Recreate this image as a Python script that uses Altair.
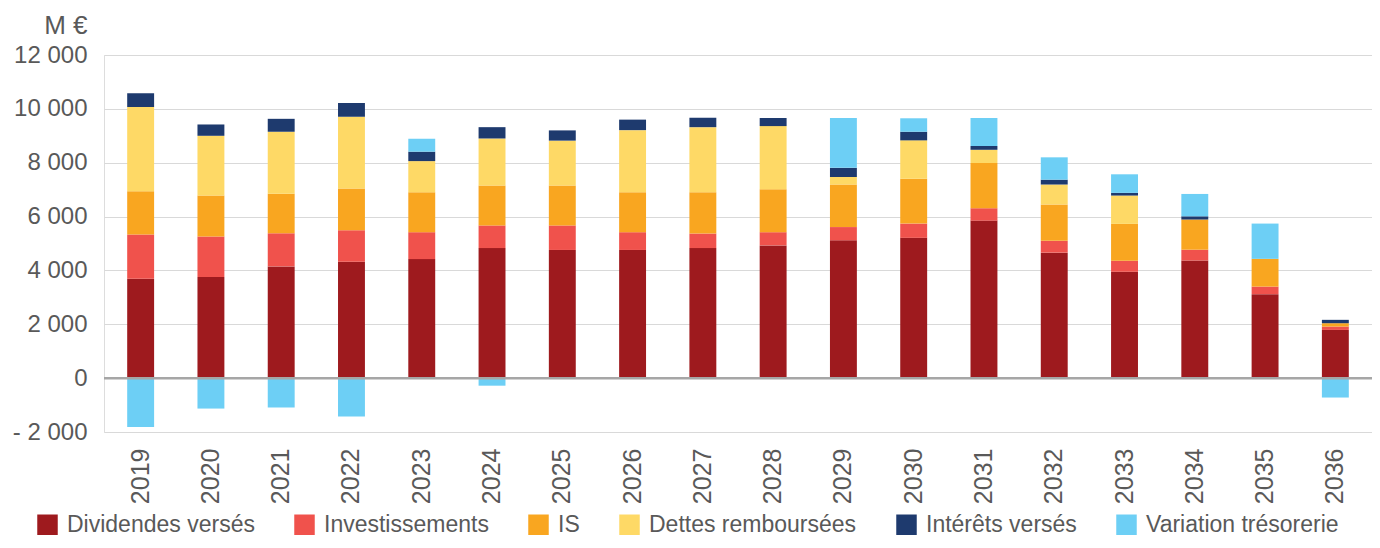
import altair as alt
import pandas as pd

years = [str(y) for y in range(2019, 2037)]
series = ["Dividendes versés", "Investissements", "IS", "Dettes remboursées",
          "Intérêts versés", "Variation trésorerie"]
colors = ["#9e1a1e", "#f0524c", "#f9a620", "#fed966", "#1e3a6e", "#6dcff5"]

dividendes = [3690, 3760, 4150, 4320, 4420, 4830, 4760, 4760, 4830, 4930, 5120, 5210, 5850, 4660, 3950, 4370, 3120, 1790]
investissements = [1640, 1500, 1230, 1170, 1000, 840, 910, 660, 540, 490, 490, 530, 460, 440, 410, 400, 280, 125]
impot = [1610, 1520, 1470, 1550, 1480, 1480, 1480, 1480, 1530, 1590, 1580, 1660, 1680, 1350, 1370, 1120, 1030, 125]
dettes = [3130, 2220, 2300, 2670, 1160, 1750, 1670, 2310, 2420, 2350, 280, 1430, 490, 740, 1050, 0, 0, 0]
interets = [510, 420, 480, 510, 350, 420, 380, 390, 350, 300, 340, 320, 140, 180, 100, 120, 0, 125]
variation = [-1810, -1130, -1090, -1420, 480, -280, 0, 0, 0, 0, 1850, 500, 1040, 830, 690, 830, 1310, -720]

y_ticks = [-2000, 0, 2000, 4000, 6000, 8000, 10000, 12000]

all_series = [dividendes, investissements, impot, dettes, interets, variation]
rows = []
for si, (name, vals) in enumerate(zip(series, all_series)):
    for yr, v in zip(years, vals):
        rows.append({"annee": yr, "serie": name, "valeur": v, "ordre": si})
df = pd.DataFrame(rows)

FONT = "Liberation Sans"
GREY = "#595959"

bars = alt.Chart(df).mark_bar(stroke=None).encode(
    x=alt.X("annee:N", sort=years, title=None,
            scale=alt.Scale(paddingInner=0.617, paddingOuter=0.33),
            axis=alt.Axis(labelAngle=-90, labelFontSize=25, labelColor=GREY,
                          labelFont=FONT, labelPadding=16, ticks=False,
                          domain=False, grid=False)),
    y=alt.Y("valeur:Q", stack="zero",
            scale=alt.Scale(domain=[-2000, 12000], nice=False),
            axis=alt.Axis(values=y_ticks, title="M €", titleAngle=0,
                          titleAlign="right", titleBaseline="alphabetic",
                          titleX=-17, titleY=-22, titleFontSize=26,
                          titleFont=FONT, titleColor=GREY, titleFontWeight="normal",
                          labelFontSize=24, labelColor=GREY, labelFont=FONT,
                          labelPadding=17, ticks=False, domain=False,
                          gridColor="#d9d9d9", gridWidth=1.2,
                          labelExpr="datum.value < 0 ? '- ' + replace(format(-datum.value, ','), ',', ' ') : replace(format(datum.value, ','), ',', ' ')")),
    color=alt.Color("serie:N", sort=series,
                    scale=alt.Scale(domain=series, range=colors),
                    legend=alt.Legend(title=None, orient="none", direction="horizontal",
                                      columns=6, legendX=-68, legendY=458,
                                      symbolType="square", symbolSize=420,
                                      symbolStrokeWidth=0, symbolOpacity=1,
                                      labelFontSize=23, labelFont=FONT,
                                      labelColor=GREY, labelOffset=8,
                                      labelLimit=0, gridAlign="each",
                                      columnPadding=38)),
    order=alt.Order("ordre:Q", sort="ascending"),
)

zero = alt.Chart(pd.DataFrame({"z": [0]})).mark_rule(color="#a6a6a6", strokeWidth=2.5).encode(
    y="z:Q"
)

chart = alt.layer(bars, zero).properties(
    width=1268, height=377,
    autosize=alt.AutoSizeParams(type="none"),
    padding={"left": 96, "top": 47, "right": 0, "bottom": 108},
).configure_view(stroke=None).configure(font=FONT)

chart.save("out.html", embed_options={"renderer": "svg", "actions": False})
